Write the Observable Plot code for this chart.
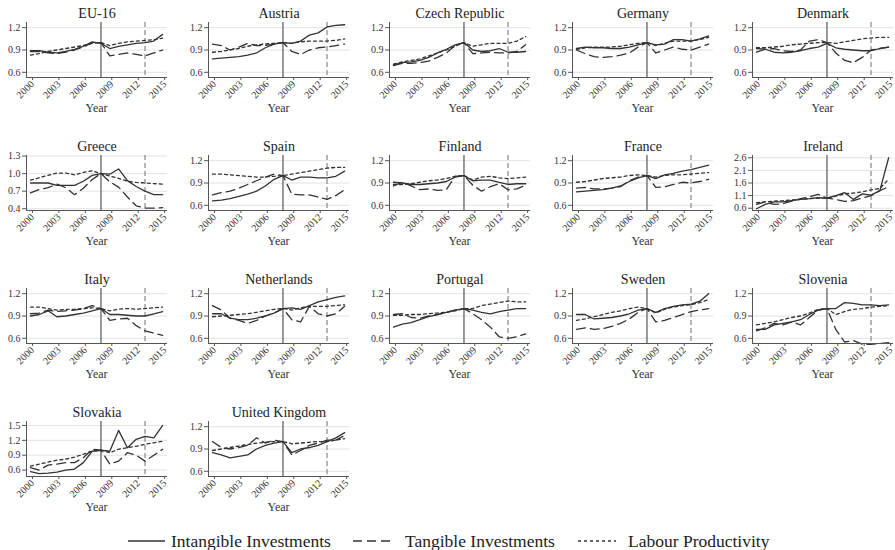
<!DOCTYPE html>
<html><head><meta charset="utf-8">
<script src="https://cdn.jsdelivr.net/npm/d3@7"></script>
<script src="https://cdn.jsdelivr.net/npm/@observablehq/plot@0.6"></script>
<style>
body{margin:0;background:#fff;overflow:hidden;}
#root{position:relative;width:895px;height:550px;overflow:hidden;font-family:"Liberation Serif","Times New Roman",serif;}
.panel{position:absolute;width:180px;height:117px;}
.panel svg{overflow:visible;max-width:none !important;}
.xlab{position:absolute;left:26px;width:141px;top:100px;text-align:center;font-size:12px;line-height:16px;color:#333;}
</style></head><body><div id="root"></div>
<script>
const countries = ["EU-16","Austria","Czech Republic","Germany","Denmark","Greece","Spain","Finland","France","Ireland","Italy","Netherlands","Portugal","Sweden","Slovenia","Slovakia","United Kingdom"];
const years = [2000,2001,2002,2003,2004,2005,2006,2007,2008,2009,2010,2011,2012,2013,2014,2015];
const xTicks = [2000,2003,2006,2009,2012,2015];
const xLabel = "Year";
const seriesNames = ["Intangible Investments","Tangible Investments","Labour Productivity"];

const intangible = [
 [0.89,0.89,0.87,0.86,0.88,0.91,0.95,1.01,0.99,0.92,0.95,0.97,0.99,1.00,1.02,1.11],
 [0.78,0.79,0.80,0.81,0.83,0.86,0.93,0.98,1.00,0.99,1.02,1.10,1.13,1.21,1.23,1.24],
 [0.70,0.73,0.74,0.76,0.80,0.86,0.91,0.97,1.00,0.90,0.88,0.89,0.92,0.87,0.87,0.88],
 [0.92,0.94,0.93,0.93,0.92,0.92,0.94,0.97,1.00,0.97,0.98,1.04,1.04,1.02,1.05,1.09],
 [0.87,0.91,0.87,0.86,0.87,0.89,0.92,0.94,0.99,0.93,0.91,0.90,0.89,0.89,0.92,0.94],
 [0.84,0.84,0.84,0.80,0.80,0.80,0.87,0.97,1.00,0.99,1.08,0.88,0.78,0.70,0.64,0.64],
 [0.66,0.67,0.69,0.72,0.75,0.79,0.86,0.95,1.00,0.94,0.98,0.98,0.97,0.97,0.99,1.06],
 [0.91,0.90,0.88,0.88,0.89,0.90,0.92,0.98,1.00,0.93,0.94,0.94,0.91,0.88,0.89,0.89],
 [0.78,0.79,0.80,0.81,0.83,0.86,0.92,0.97,1.00,0.96,1.01,1.03,1.06,1.08,1.11,1.14],
 [0.58,0.75,0.85,0.85,0.90,0.95,0.98,1.02,1.00,1.10,1.22,0.95,1.17,1.12,1.30,2.60],
 [0.90,0.92,0.97,0.89,0.90,0.92,0.94,0.97,1.00,0.92,0.92,0.91,0.90,0.90,0.93,0.96],
 [0.93,0.93,0.87,0.85,0.85,0.87,0.90,0.94,1.00,1.01,0.99,1.04,1.09,1.12,1.15,1.17],
 [0.75,0.79,0.81,0.85,0.89,0.92,0.95,0.98,1.00,0.98,0.95,0.93,0.96,0.98,1.00,1.00],
 [0.92,0.92,0.86,0.87,0.88,0.90,0.93,0.98,1.00,0.95,1.00,1.03,1.05,1.06,1.10,1.20],
 [0.72,0.72,0.78,0.80,0.82,0.85,0.92,0.98,1.00,1.00,1.08,1.07,1.05,1.05,1.04,1.05],
 [0.57,0.53,0.54,0.56,0.60,0.62,0.75,0.98,1.00,0.98,1.40,1.05,1.22,1.28,1.25,1.50],
 [0.85,0.82,0.78,0.80,0.82,0.90,0.95,0.98,1.00,0.85,0.90,0.92,0.95,1.00,1.05,1.12]
];
const tangible = [
 [0.88,0.88,0.86,0.85,0.87,0.90,0.94,1.00,1.00,0.82,0.84,0.86,0.84,0.82,0.86,0.90],
 [0.98,0.96,0.90,0.94,0.99,0.96,0.96,0.98,1.00,0.88,0.84,0.90,0.93,0.94,0.96,0.98],
 [0.69,0.72,0.72,0.73,0.75,0.80,0.86,0.96,1.00,0.85,0.86,0.87,0.86,0.86,0.88,0.97],
 [0.90,0.85,0.81,0.80,0.81,0.83,0.86,0.94,1.00,0.86,0.90,0.94,0.91,0.90,0.94,0.98],
 [0.92,0.91,0.92,0.89,0.88,0.90,1.02,1.04,1.00,0.86,0.76,0.73,0.80,0.90,0.92,0.94],
 [0.67,0.73,0.76,0.82,0.76,0.64,0.75,0.90,1.00,0.86,0.77,0.60,0.45,0.41,0.41,0.42],
 [0.74,0.77,0.79,0.83,0.88,0.93,0.98,1.02,1.00,0.75,0.74,0.74,0.71,0.68,0.73,0.81],
 [0.86,0.91,0.86,0.81,0.82,0.80,0.81,0.99,1.00,0.87,0.79,0.85,0.89,0.81,0.82,0.87],
 [0.83,0.84,0.82,0.82,0.83,0.85,0.93,0.98,1.00,0.84,0.85,0.88,0.91,0.90,0.92,0.95],
 [0.75,0.85,0.75,0.78,0.88,0.98,1.05,1.15,1.00,0.95,0.87,0.90,1.00,1.10,1.30,1.45],
 [0.93,0.94,0.98,0.96,0.97,0.98,1.00,1.04,1.00,0.84,0.86,0.87,0.77,0.70,0.67,0.64],
 [1.04,0.98,0.87,0.84,0.80,0.84,0.90,0.94,1.00,0.85,0.82,1.03,0.93,0.90,0.93,1.03],
 [0.92,0.93,0.88,0.87,0.90,0.92,0.95,0.98,1.00,0.93,0.85,0.75,0.62,0.60,0.62,0.66],
 [0.72,0.74,0.72,0.73,0.76,0.80,0.86,0.95,1.00,0.82,0.84,0.88,0.92,0.96,0.98,1.00],
 [0.70,0.74,0.80,0.78,0.82,0.78,0.88,0.98,1.00,0.72,0.55,0.57,0.52,0.52,0.53,0.54],
 [0.65,0.60,0.70,0.72,0.75,0.75,0.85,1.02,1.00,0.72,0.78,0.95,0.90,0.78,0.90,1.02],
 [1.00,0.92,0.90,0.92,0.95,1.05,0.98,1.02,1.00,0.82,0.88,0.95,0.98,1.02,1.02,1.08]
];
const labour = [
 [0.83,0.85,0.88,0.90,0.92,0.94,0.96,0.99,1.00,0.96,0.99,1.01,1.02,1.03,1.04,1.06],
 [0.87,0.88,0.90,0.92,0.95,0.97,0.98,0.99,1.00,0.99,1.01,1.02,1.02,1.02,1.03,1.05],
 [0.71,0.74,0.76,0.78,0.82,0.86,0.90,0.95,1.00,0.95,0.97,0.99,0.99,0.99,1.02,1.08],
 [0.91,0.93,0.94,0.94,0.94,0.95,0.97,0.99,1.00,0.96,0.99,1.02,1.02,1.02,1.04,1.07],
 [0.93,0.93,0.94,0.95,0.97,0.98,0.99,1.00,1.00,0.99,1.01,1.03,1.05,1.06,1.07,1.07],
 [0.89,0.93,0.97,1.01,1.01,0.98,1.02,1.05,1.00,0.96,0.92,0.87,0.85,0.84,0.83,0.82],
 [1.02,1.02,1.01,1.00,0.99,0.98,0.98,0.99,1.00,1.02,1.04,1.06,1.08,1.10,1.11,1.11],
 [0.88,0.88,0.89,0.91,0.93,0.94,0.96,0.99,1.00,0.94,0.98,0.99,0.97,0.96,0.97,0.98],
 [0.91,0.92,0.94,0.96,0.97,0.98,1.00,1.01,1.00,0.98,1.00,1.01,1.01,1.02,1.03,1.04],
 [0.82,0.85,0.88,0.90,0.93,0.95,0.98,1.00,1.00,1.08,1.17,1.20,1.25,1.33,1.38,1.75],
 [1.02,1.02,1.00,0.98,0.99,0.99,1.00,1.01,1.00,0.97,0.99,1.00,0.99,1.00,1.01,1.02],
 [0.89,0.90,0.91,0.92,0.93,0.95,0.97,0.99,1.00,0.98,1.01,1.03,1.03,1.03,1.04,1.05],
 [0.91,0.91,0.92,0.92,0.93,0.94,0.95,0.97,1.00,1.00,1.04,1.06,1.08,1.10,1.09,1.09],
 [0.84,0.86,0.89,0.92,0.95,0.97,1.00,1.02,1.00,0.94,0.99,1.02,1.04,1.05,1.08,1.12],
 [0.78,0.80,0.82,0.85,0.88,0.90,0.94,0.99,1.00,0.92,0.96,0.99,1.00,1.02,1.03,1.04],
 [0.68,0.72,0.76,0.80,0.82,0.86,0.92,0.98,1.00,0.95,1.02,1.05,1.08,1.12,1.15,1.18],
 [0.88,0.90,0.92,0.94,0.96,0.98,0.99,1.00,1.00,0.97,0.98,0.99,1.00,1.00,1.02,1.04]
];
const stdTicks = [0.6,0.9,1.2];
const yTicks = [stdTicks,stdTicks,stdTicks,stdTicks,stdTicks,[0.4,0.7,1.0,1.3],stdTicks,stdTicks,stdTicks,[0.6,1.1,1.6,2.1,2.6],stdTicks,stdTicks,stdTicks,stdTicks,stdTicks,[0.6,0.9,1.2,1.5],stdTicks];
const stdDom = [0.53,1.27];
const yDomains = [stdDom,stdDom,stdDom,stdDom,stdDom,[0.37,1.31],stdDom,stdDom,stdDom,[0.51,2.69],stdDom,stdDom,stdDom,stdDom,stdDom,[0.47,1.58],stdDom];
const xDomain = [1999.55,2015.55];
const crisisYear = [2008];
const markerYear = [2013];

const colLeft = [0,182,363,546,726];
const rowTop = [0,133,266,399];
const root = document.getElementById("root");
const font = '"Liberation Serif","Times New Roman",serif';
const dashes = [null,"9,5","3,3"];

countries.forEach((name,i)=>{
  const rows = [];
  [intangible[i],tangible[i],labour[i]].forEach((vals,s)=>{
    vals.forEach((v,j)=>rows.push({year:years[j],value:v,series:seriesNames[s]}));
  });
  const lineMarks = seriesNames.map((sn,s)=>Plot.lineY(rows.filter(r=>r.series===sn),{x:"year",y:"value",stroke:"#333",strokeWidth:1.3,strokeDasharray:dashes[s]}));
  const chart = Plot.plot({
    width:180,height:117,marginLeft:26,marginRight:13,marginTop:22,marginBottom:40,
    x:{domain:xDomain},
    y:{domain:yDomains[i]},
    style:{fontFamily:font,fontSize:"10px",color:"#333",background:"transparent"},
    marks:[
      Plot.gridY(yTicks[i],{stroke:"#e2e2e2",strokeOpacity:1}),
      Plot.ruleX(crisisYear,{stroke:"#777",strokeWidth:1.5}),
      Plot.ruleX(markerYear,{stroke:"#888",strokeWidth:1.2,strokeDasharray:"5,3"}),
      ...lineMarks,
      Plot.ruleX([xDomain[0]],{stroke:"#555"}),
      Plot.ruleY([yDomains[i][0]],{stroke:"#555"}),
      Plot.axisX(xTicks,{tickRotate:-45,tickSize:3,tickPadding:2,dx:2,fontSize:10,tickFormat:d=>String(d),label:null,stroke:"#555"}),
      Plot.axisY(yTicks[i],{tickSize:4,tickPadding:2,tickFormat:d3.format(".1f"),label:null,stroke:"#555"}),
      Plot.text([name],{frameAnchor:"top",lineAnchor:"middle",dy:-9,fontSize:14,fill:"#222"})
    ]
  });
  const div = document.createElement("div");
  div.className="panel";
  div.style.left = colLeft[i%5]+"px";
  div.style.top = rowTop[Math.floor(i/5)]+"px";
  div.appendChild(chart);
  const lab = document.createElement("div");
  lab.className = "xlab";
  lab.textContent = xLabel;
  div.appendChild(lab);
  root.appendChild(div);
});

// legend
const legendLine = [[128,165],[353,392],[578,616]];
const legendText = [171,405,628];
const svg = d3.select(root).append("svg").attr("width",895).attr("height",24)
  .style("position","absolute").style("left","0px").style("top","529px");
seriesNames.forEach((sn,s)=>{
  svg.append("line").attr("x1",legendLine[s][0]).attr("x2",legendLine[s][1]).attr("y1",12).attr("y2",12)
    .attr("stroke","#333").attr("stroke-width",1.6).attr("stroke-dasharray",dashes[s]);
  svg.append("text").attr("x",legendText[s]).attr("y",12).attr("dy","0.35em")
    .attr("font-family",font).attr("font-size",17.5).attr("fill","#222").text(sn);
});
</script>
</body></html>
